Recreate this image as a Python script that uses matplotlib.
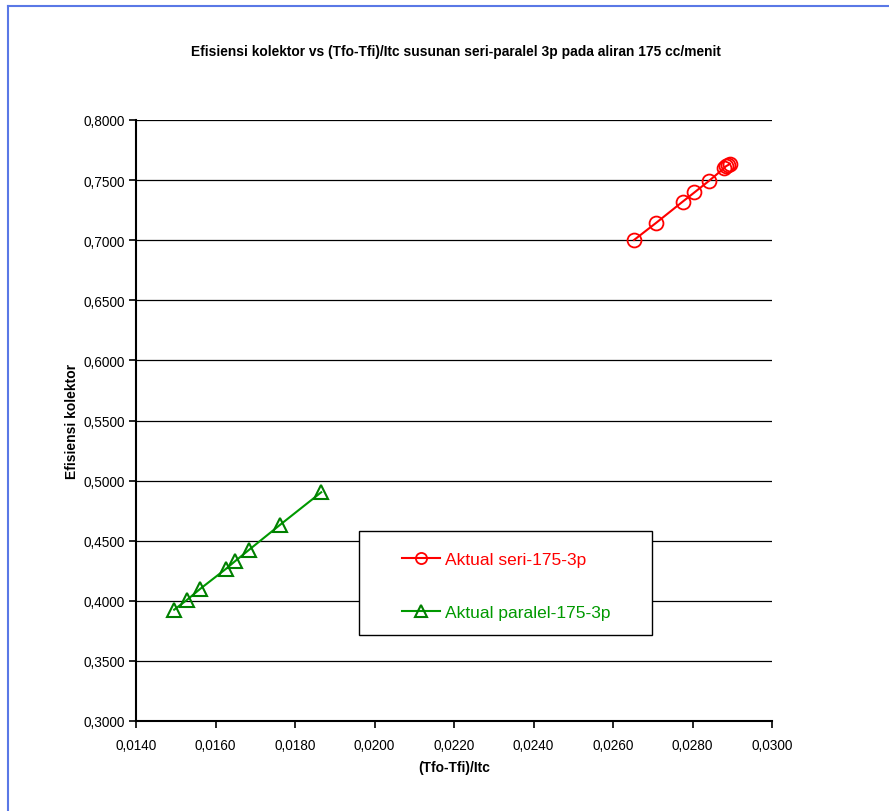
import matplotlib
matplotlib.use("Agg")
import matplotlib.pyplot as plt
from matplotlib.lines import Line2D
from matplotlib.patches import Rectangle
from matplotlib.ticker import FuncFormatter, MultipleLocator

plt.rcParams['font.family'] = ['Liberation Sans', 'DejaVu Sans']

# data seri (merah) dan paralel (hijau)
x_seri = [0.02653, 0.02708, 0.02775, 0.02805, 0.02842, 0.02879, 0.02884, 0.02890, 0.02894]
y_seri = [0.7002, 0.7143, 0.7320, 0.7398, 0.7495, 0.7598, 0.7615, 0.7626, 0.7637]
x_paralel = [0.01496, 0.01528, 0.01561, 0.01626, 0.01649, 0.01684, 0.01762, 0.01866]
y_paralel = [0.3926, 0.4007, 0.4098, 0.4265, 0.4329, 0.4423, 0.4631, 0.4903]

judul = "Efisiensi kolektor vs (Tfo-Tfi)/Itc susunan seri-paralel 3p pada aliran 175 cc/menit"
label_x = "(Tfo-Tfi)/Itc"
label_y = "Efisiensi kolektor"
nama_seri = "Aktual seri-175-3p"
nama_paralel = "Aktual paralel-175-3p"

fig = plt.figure(figsize=(8.89, 8.12), dpi=100)
ax = fig.add_axes([136/889, 1-722/812, 636/889, 601/812])

ax.plot(x_seri, y_seri, color='#ff0000', lw=1.5, marker='o', ms=10,
        mfc='none', mec='#ff0000', mew=1.3, label=nama_seri)
ax.plot(x_paralel, y_paralel, color='#009900', lw=1.5, marker='^', ms=10,
        mfc='none', mec='#008000', mew=1.5, label=nama_paralel)

ax.set_xlim(0.014, 0.030)
ax.set_ylim(0.30, 0.80)
ax.xaxis.set_major_locator(MultipleLocator(0.002))
ax.yaxis.set_major_locator(MultipleLocator(0.05))
koma = FuncFormatter(lambda v, p: f"{v:.4f}".replace('.', ','))
ax.xaxis.set_major_formatter(koma)
ax.yaxis.set_major_formatter(koma)
ax.tick_params(direction='out', length=5, width=1.2, labelsize=9.8)
ax.tick_params(axis='y', pad=3)
ax.tick_params(axis='x', pad=7)
ax.grid(axis='y', color='black', lw=0.9)
ax.set_axisbelow(True)
for s in ['top', 'right']:
    ax.spines[s].set_visible(False)
for s in ['left', 'bottom']:
    ax.spines[s].set_linewidth(1.5)

ax.set_xlabel(label_x, fontsize=10, fontweight='bold', labelpad=6)
ax.set_ylabel(label_y, fontsize=10, fontweight='bold', labelpad=3)
fig.text(456/889, 1-52/812, judul, ha='center', va='center',
         fontsize=9.9, fontweight='bold')

# kotak legenda
ax.add_patch(Rectangle((223/636, 86/601), 293/636, 104/601,
                       transform=ax.transAxes, facecolor='white',
                       edgecolor='black', lw=1, zorder=5))
leg = ax.legend(loc='upper left', bbox_to_anchor=(402/889, 1-553/812),
                bbox_transform=fig.transFigure, frameon=False,
                fontsize=12.5, handlelength=2.2, handletextpad=0.25,
                labelspacing=2.2, borderpad=0, borderaxespad=0,
                markerscale=0.8)
leg.set_zorder(6)
for teks, h in zip(leg.get_texts(), leg.legend_handles):
    teks.set_color(h.get_color())

# garis tepi biru
fig.add_artist(Line2D([8/889, 8/889], [0, 1-7/812], color='#5a78e6', lw=1.5))
fig.add_artist(Line2D([8/889, 1], [1-7/812, 1-7/812], color='#5a78e6', lw=1.5))

fig.savefig("out.png", dpi=100)
